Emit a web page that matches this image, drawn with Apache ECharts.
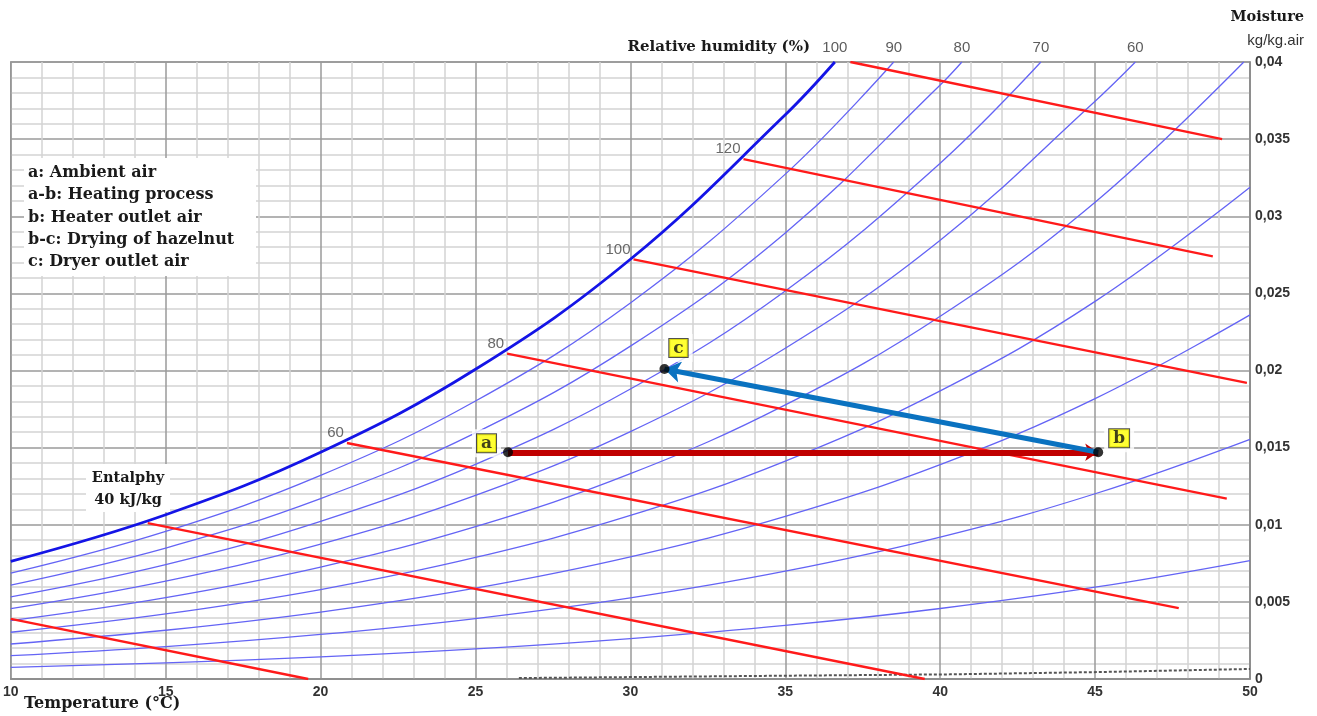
<!DOCTYPE html>
<html><head><meta charset="utf-8">
<script src="https://cdn.jsdelivr.net/npm/echarts@6/dist/echarts.min.js"></script>
<style>html,body{margin:0;padding:0;background:#fff}#c{width:1317px;height:716px}</style>
</head><body><div id="c"></div>
<script>
// ---------- data ----------
const temps = [10, 15, 20, 25, 30, 35, 40, 45, 50];               // °C
const rhLevels = [10, 20, 30, 40, 50, 60, 70, 80, 90, 100];      // %
// moisture content (kg/kg air) of each relative-humidity curve at the temps above
const rh10  = [0.00076, 0.00105, 0.00144, 0.00195, 0.00262, 0.00347, 0.00457, 0.00595, 0.00768];
const rh20  = [0.00151, 0.00210, 0.00289, 0.00392, 0.00526, 0.00699, 0.00920, 0.01201, 0.01554];
const rh30  = [0.00227, 0.00316, 0.00434, 0.00589, 0.00792, 0.01054, 0.01390, 0.01818, 0.02361];
const rh40  = [0.00303, 0.00422, 0.00580, 0.00788, 0.01060, 0.01413, 0.01868, 0.02448, 0.03188];
const rh50  = [0.00379, 0.00528, 0.00726, 0.00988, 0.01331, 0.01777, 0.02352, 0.03091];
const rh60  = [0.00456, 0.00634, 0.00874, 0.01190, 0.01604, 0.02144, 0.02844, 0.03746];
const rh70  = [0.00532, 0.00741, 0.01022, 0.01392, 0.01880, 0.02516, 0.03344];
const rh80  = [0.00609, 0.00849, 0.01170, 0.01596, 0.02158, 0.02892, 0.03851];
const rh90  = [0.00686, 0.00957, 0.01320, 0.01802, 0.02438, 0.03273];
const rh100 = [0.00763, 0.01065, 0.01470, 0.02008, 0.02721, 0.03658];
// temperature where each curve leaves the top of the chart (0.04), null = stays inside
const rhTopExit = [null, null, null, null, 49.8, 46.3, 43.25, 40.7, 38.5, 36.6];
const rhTopLabels = [100, 90, 80, 70, 60];
const rhTopLabelTemps = [36.6, 38.5, 40.7, 43.25, 46.3];
const topMoisture = 0.04;

// enthalpy lines [start, end] as [temperature, moisture]
const h20  = [[10, 0.0039], [19.6, 0]];
const h40  = [[14.42, 0.0101], [39.5, 0]];
const h60  = [[20.85, 0.0153], [47.7, 0.0046]];
const h80  = [[26.02, 0.0211], [49.25, 0.0117]];
const h100 = [[30.1, 0.0272], [49.9, 0.0192]];
const h120 = [[33.65, 0.0337], [48.8, 0.0274]];
const h140 = [[37.1, 0.04], [49.1, 0.035]];
const enthalpyLabels = ['60', '80', '100', '120'];

// process points
const pointA = [26.05, 0.0147];
const pointB = [45.1, 0.0147];
const pointC = [31.1, 0.0201];

// faint trace along the bottom
const floorTrace = [[26.4, 0.00006], [34.2, 0.0002], [40.3, 0.0003], [45.1, 0.00045], [50, 0.00065]];

const legendLines = ['a: Ambient air', 'a-b: Heating process', 'b: Heater outlet air', 'b-c: Drying of hazelnut', 'c: Dryer outlet air'];

// ---------- build chart ----------
const rhValues = [rh10, rh20, rh30, rh40, rh50, rh60, rh70, rh80, rh90, rh100];
const SERIF = '"DejaVu Serif", "Liberation Serif", serif';
const SANS = '"Liberation Sans", Arial, sans-serif';

const series = [];
rhValues.forEach((vals, i) => {
  const pts = vals.map((w, j) => [temps[j], w]);
  if (rhTopExit[i] !== null) pts.push([rhTopExit[i], topMoisture]);
  const sat = rhLevels[i] === 100;
  series.push({
    type: 'line', name: 'RH ' + rhLevels[i], data: pts, showSymbol: false,
    smooth: 0.4, silent: true, z: sat ? 4 : 3,
    lineStyle: { color: sat ? '#1414e6' : '#6464f5', width: sat ? 2.8 : 1.3 }
  });
});
[h20, h40, h60, h80, h100, h120, h140].forEach((seg, i) => {
  series.push({
    type: 'line', name: 'h' + i, data: seg, showSymbol: false, silent: true, z: 5,
    lineStyle: { color: '#ff1a1a', width: 2.3 }
  });
});
series.push({
  type: 'line', data: floorTrace, showSymbol: false, silent: true, z: 3,
  lineStyle: { color: '#555', width: 2, type: [3, 2] }
});
// enthalpy value labels at line starts
series.push({
  type: 'scatter', symbolSize: 0, silent: true, z: 6,
  data: [h60[0], h80[0], h100[0], h120[0]].map((p, i) => ({ value: p, name: enthalpyLabels[i] })),
  label: { show: true, formatter: '{b}', position: 'left', distance: 3, offset: [0, -10],
    color: '#444', fontSize: 15, fontFamily: SANS }
});
// RH labels along the top
series.push({
  type: 'scatter', symbolSize: 0, silent: true, clip: false, z: 6,
  data: rhTopLabelTemps.map((t, i) => ({ value: [t, topMoisture], name: String(rhTopLabels[i]) })),
  label: { show: true, formatter: '{b}', position: 'top', distance: 7,
    color: '#333', fontSize: 15, fontFamily: SANS }
});
// process arrows
series.push({
  type: 'lines', coordinateSystem: 'cartesian2d', silent: true, z: 8,
  symbol: ['none', 'arrow'], symbolSize: 13,
  lineStyle: { color: '#c00000', width: 6, opacity: 1 },
  data: [{ coords: [pointA, pointB] }]
});
series.push({
  type: 'lines', coordinateSystem: 'cartesian2d', silent: true, z: 8,
  symbol: ['none', 'arrow'], symbolSize: 16,
  lineStyle: { color: '#0a72c0', width: 5, opacity: 1 },
  data: [{ coords: [pointB, pointC] }]
});
// label halos + yellow labels
const lab = [
  { p: pointA, t: 'a', pos: 'left', d: 12, off: [0, -9] },
  { p: pointB, t: 'b', pos: 'right', d: 11, off: [0, -14] },
  { p: pointC, t: 'c', pos: 'top', d: 12, off: [14, 0] }
];
series.push({
  type: 'scatter', symbolSize: 0, silent: true, z: 9,
  data: lab.map(l => ({ value: l.p, label: { show: true, formatter: l.t, position: l.pos, distance: l.d - 5, offset: l.off,
    backgroundColor: '#fff', padding: [6, 9, 5, 9], color: 'rgba(0,0,0,0)', fontSize: 17, fontWeight: 'bold', fontFamily: SERIF } }))
});
series.push({
  type: 'scatter', symbolSize: 0, silent: true, z: 10,
  data: lab.map(l => ({ value: l.p, label: { show: true, formatter: l.t, position: l.pos, distance: l.d, offset: l.off,
    backgroundColor: '#ffff00', borderColor: '#222', borderWidth: 1, padding: [1, 4, 0, 4],
    color: '#111', fontSize: 17, fontWeight: 'bold', fontFamily: SERIF } }))
});
// process points
series.push({
  type: 'scatter', symbol: 'circle', symbolSize: 10, silent: true, z: 11,
  itemStyle: { color: '#000' }, data: [pointA, pointB, pointC]
});

const fmtY = v => v === 0 ? '0' : String(+v.toFixed(3)).replace('.', ',');

const legendGraphics = [{ type: 'rect', z: 100, shape: { x: 24, y: 158, width: 232, height: 118 }, style: { fill: '#fff' } }];
legendLines.forEach((t, i) => legendGraphics.push({
  type: 'text', z: 101, x: 28, y: 173 + i * 22.3,
  style: { text: t, font: 'bold 16px ' + SERIF, fill: '#1a1a1a', verticalAlign: 'middle', align: 'left' }
}));

const option = {
  animation: false,
  backgroundColor: '#fff',
  grid: { left: 10, right: 67, top: 62, bottom: 37, show: true, borderColor: '#8a8a8a', borderWidth: 1.5 },
  xAxis: {
    type: 'value', min: 10, max: 50, interval: 5,
    axisLine: { show: true, onZero: false, lineStyle: { color: '#8a8a8a', width: 1.5 } },
    axisTick: { show: false },
    axisLabel: { color: '#333', fontSize: 14, fontWeight: 'bold', fontFamily: SANS, margin: 6 },
    splitLine: { show: true, lineStyle: { color: '#9a9a9a', width: 1.5 } },
    minorTick: { show: false, splitNumber: 5 },
    minorSplitLine: { show: true, lineStyle: { color: '#d3d3d3', width: 1.5 } }
  },
  yAxis: {
    type: 'value', position: 'right', min: 0, max: 0.04, interval: 0.005,
    axisLine: { show: true, onZero: false, lineStyle: { color: '#8a8a8a', width: 1.5 } },
    axisTick: { show: false },
    axisLabel: { color: '#333', fontSize: 14, fontWeight: 'bold', fontFamily: SANS, margin: 5, formatter: fmtY },
    splitLine: { show: true, lineStyle: { color: '#9a9a9a', width: 1.5 } },
    minorTick: { show: false, splitNumber: 5 },
    minorSplitLine: { show: true, lineStyle: { color: '#d3d3d3', width: 1.5 } }
  },
  series: series,
  graphic: [
    ...legendGraphics,
    { type: 'text', z: 101, x: 810, y: 47, style: { text: 'Relative humidity (%)', font: 'bold 15px ' + SERIF, fill: '#1a1a1a', align: 'right', verticalAlign: 'middle' } },
    { type: 'text', z: 101, x: 1304, y: 17, style: { text: 'Moisture', font: 'bold 14.5px ' + SERIF, fill: '#1a1a1a', align: 'right', verticalAlign: 'middle' } },
    { type: 'text', z: 101, x: 1304, y: 41, style: { text: 'kg/kg.air', font: '15px ' + SANS, fill: '#333', align: 'right', verticalAlign: 'middle' } },
    { type: 'text', z: 101, x: 24, y: 704, style: { text: 'Temperature (°C)', font: 'bold 16px ' + SERIF, fill: '#1a1a1a', align: 'left', verticalAlign: 'middle' } },
    { type: 'rect', z: 100, shape: { x: 86, y: 464, width: 84, height: 48 }, style: { fill: '#fff' } },
    { type: 'text', z: 101, x: 128, y: 478, style: { text: 'Entalphy', font: 'bold 14.5px ' + SERIF, fill: '#1a1a1a', align: 'center', verticalAlign: 'middle' } },
    { type: 'text', z: 101, x: 128, y: 500, style: { text: '40 kJ/kg', font: 'bold 14.5px ' + SERIF, fill: '#1a1a1a', align: 'center', verticalAlign: 'middle' } }
  ]
};
const chart = echarts.init(document.getElementById('c'), null, { renderer: 'canvas' });
chart.setOption(option);
</script>
</body></html>
